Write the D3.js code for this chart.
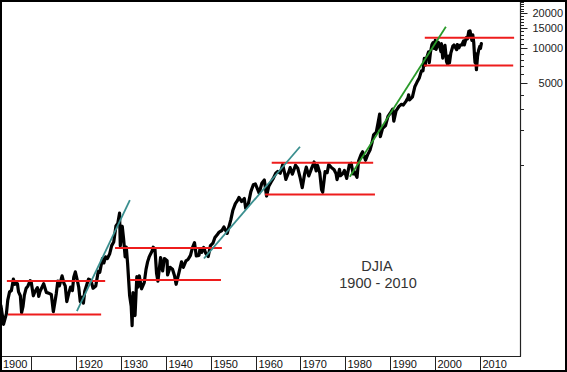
<!DOCTYPE html>
<html><head><meta charset="utf-8">
<script src="https://cdn.jsdelivr.net/npm/d3@7"></script>
<style>html,body{margin:0;padding:0;background:#fff;}svg{display:block;}</style>
</head><body>
<script>
// ---- data ----
const dates = [1903.0,1903.3,1903.6,1903.85,1904.2,1904.5,1904.8,1905.2,1905.6,1905.9,1906.05,1906.4,1906.7,1906.95,1907.2,1907.6,1907.88,1908.2,1908.5,1908.9,1909.3,1909.8,1910.0,1910.5,1910.9,1911.4,1911.7,1912.0,1912.8,1913.4,1913.9,1914.5,1914.95,1915.3,1915.6,1915.95,1916.3,1916.9,1917.3,1917.6,1917.95,1918.4,1918.8,1919.2,1919.5,1919.85,1920.3,1920.6,1920.95,1921.4,1921.65,1921.95,1922.5,1922.8,1923.3,1923.8,1924.4,1924.95,1925.3,1925.9,1926.2,1926.6,1927.0,1927.5,1927.95,1928.4,1928.9,1929.3,1929.7,1929.87,1930.3,1930.6,1930.95,1931.2,1931.5,1931.95,1932.3,1932.5,1932.7,1932.95,1933.15,1933.55,1933.8,1934.1,1934.6,1935.2,1935.6,1935.95,1936.3,1936.95,1937.2,1937.6,1937.95,1938.25,1938.85,1939.3,1939.7,1940.3,1940.4,1940.95,1941.5,1941.95,1942.3,1942.95,1943.5,1943.9,1944.5,1944.95,1945.5,1945.95,1946.4,1946.8,1947.4,1947.6,1948.0,1948.45,1948.9,1949.45,1949.95,1950.5,1950.95,1951.5,1951.9,1952.5,1952.95,1953.7,1953.95,1954.5,1954.95,1955.5,1955.95,1956.3,1956.9,1957.5,1957.8,1958.4,1958.95,1959.5,1959.95,1960.4,1960.8,1961.4,1961.95,1962.45,1962.95,1963.5,1963.95,1964.5,1964.95,1965.5,1966.05,1966.4,1966.75,1967.5,1967.7,1968.2,1968.9,1969.4,1969.9,1970.4,1970.95,1971.3,1971.85,1972.5,1972.95,1973.05,1973.5,1973.8,1974.3,1974.7,1974.95,1975.5,1975.95,1976.3,1976.8,1977.5,1977.95,1978.15,1978.7,1978.9,1979.5,1979.8,1980.3,1980.9,1981.3,1981.75,1981.95,1982.6,1982.95,1983.5,1983.85,1984.5,1984.95,1985.5,1985.95,1986.3,1986.9,1987.3,1987.65,1987.8,1988.3,1988.95,1989.5,1989.95,1990.55,1990.8,1991.3,1991.95,1992.5,1992.9,1993.5,1993.95,1994.1,1994.3,1994.95,1995.5,1995.95,1996.5,1996.95,1997.3,1997.6,1997.8,1997.95,1998.55,1998.7,1998.95,1999.3,1999.55,1999.8,2000.03,2000.2,2000.7,2000.95,2001.3,2001.4,2001.7,2001.95,2002.2,2002.55,2002.8,2003.0,2003.2,2003.5,2003.95,2004.2,2004.8,2004.95,2005.3,2005.6,2005.95,2006.35,2006.5,2006.95,2007.2,2007.5,2007.62,2007.78,2008.0,2008.2,2008.4,2008.6,2008.8,2008.9,2009.0,2009.2,2009.45,2009.7,2009.95,2010.1,2010.3];
const djia = [65,60,50,42,47,52,68,80,82,95,103,93,95,94,80,74,53,60,75,86,90,100,98,74,81,87,73,81,94,79,78,76,54,65,77,99,90,110,95,90,66,78,88,82,107,119,100,88,66,72,64,81,95,103,101,86,90,120,118,155,142,160,155,170,200,215,295,310,381,199,294,230,160,194,140,74,60,41,79,60,50,108,88,110,85,96,125,145,160,180,194,185,115,99,158,121,155,148,112,130,125,110,93,118,145,130,148,152,165,192,212,163,165,185,175,193,172,161,200,210,235,250,262,270,290,255,280,335,404,460,488,520,480,510,420,460,584,670,680,620,566,690,735,535,650,710,760,840,870,840,995,870,744,880,940,825,985,930,780,631,840,950,797,930,1020,1051,880,985,850,607,577,870,850,1000,950,900,830,742,907,800,840,890,759,1000,1024,830,875,777,1070,1220,1287,1087,1210,1330,1546,1800,1900,2300,2722,1738,2050,2168,2600,2750,2999,2365,2900,3168,3300,3250,3500,3750,3978,3600,3830,4700,5100,5600,6400,6400,8200,7160,7900,9337,7539,9180,10800,11200,10000,11722,9796,11300,10600,9400,11000,8235,10000,10635,7700,7286,8600,7500,9100,10450,10700,9750,10800,10100,10700,10700,11600,10700,12400,12100,14000,12900,14164,12600,11740,13058,11300,8400,7552,9000,6547,8500,9700,10400,10000,11000];

// horizontal support/resistance lines: start year, end year, level
const hStart = [1904.6, 1904.85, 1928.7, 1932.0, 1963.6, 1962.1, 1997.7, 1997.5];
const hEnd   = [1926.5, 1925.6, 1952.5, 1952.3, 1986.2, 1986.6, 2017.6, 2017.4];
const hLevel = [99, 51, 191, 101, 1034, 552, 12370, 7140];

// trend lines
const tX1 = [1920.2, 1948.5, 1981.0];
const tY1 = [54.5, 155, 783];
const tX2 = [1932.0, 1969.9, 2002.4];
const tY2 = [493, 1421, 15380];
const tColor = ["#3a8f8f", "#3a8f8f", "#2a9a2a"];

const decadeYears = [1910,1920,1930,1940,1950,1960,1970,1980,1990,2000,2010];
const decadeLabels = ["","1920","1930","1940","1950","1960","1970","1980","1990","2000","2010"];
const firstLabel = "1900";
const yLabelValues = [5000, 10000, 15000, 20000];
const yMinorValues = [1000,2000,3000,4000,6000,7000,8000,9000,11000,12000,13000,14000,16000,17000,18000,19000,21000,22000,23000,24000,25000];

const title1 = "DJIA", title2 = "1900 - 2010";

// ---- layout ----
const W = 567, H = 372;
const plotR = 520.5, plotB = 356.5;
const x = d3.scaleLinear().domain([1920, 2010]).range([76, 480]);
const y = d3.scaleLog().domain([1000, 10000]).range([164.5, 48.4]);

const svg = d3.select("body").append("svg").attr("width", W).attr("height", H)
  .style("font-family", "'Liberation Sans', Arial, sans-serif");

svg.append("defs").append("clipPath").attr("id", "clip")
  .append("rect").attr("x", 1).attr("y", 1).attr("width", plotR - 1).attr("height", plotB - 1);

const g = svg.append("g").attr("clip-path", "url(#clip)");

// data line
const pts = dates.map((d, i) => [d, djia[i]]);
const line = d3.line().x(d => x(d[0])).y(d => y(d[1]));
g.append("path").datum(pts).attr("d", line)
  .attr("fill", "none").attr("stroke", "#000").attr("stroke-width", 3.2)
  .attr("stroke-linejoin", "round").attr("stroke-linecap", "round");

// horizontal red lines
g.selectAll(".hl").data(hLevel).enter().append("line")
  .attr("x1", (d, i) => x(hStart[i])).attr("x2", (d, i) => x(hEnd[i]))
  .attr("y1", d => y(d)).attr("y2", d => y(d))
  .attr("stroke", "#ee1c1c").attr("stroke-width", 2);

// trend lines
g.selectAll(".tl").data(tX1).enter().append("line")
  .attr("x1", (d, i) => x(tX1[i])).attr("y1", (d, i) => y(tY1[i]))
  .attr("x2", (d, i) => x(tX2[i])).attr("y2", (d, i) => y(tY2[i]))
  .attr("stroke", (d, i) => tColor[i]).attr("stroke-width", 1.8);

// plot border (right & bottom)
svg.append("line").attr("x1", plotR).attr("x2", plotR).attr("y1", 0).attr("y2", plotB)
  .attr("stroke", "#222").attr("stroke-width", 1.2);
svg.append("line").attr("x1", 0).attr("x2", plotR + 0.5).attr("y1", plotB).attr("y2", plotB)
  .attr("stroke", "#222").attr("stroke-width", 1.2);

// right axis ticks
svg.selectAll(".mt").data(yMinorValues).enter().append("line")
  .attr("x1", plotR).attr("x2", plotR + 3.5)
  .attr("y1", d => Math.round(y(d)) + 0.5).attr("y2", d => Math.round(y(d)) + 0.5)
  .attr("stroke", "#222").attr("stroke-width", 1);
svg.selectAll(".Mt").data(yLabelValues).enter().append("line")
  .attr("x1", plotR).attr("x2", plotR + 7)
  .attr("y1", d => Math.round(y(d)) + 0.5).attr("y2", d => Math.round(y(d)) + 0.5)
  .attr("stroke", "#222").attr("stroke-width", 1);
svg.selectAll(".yl").data(yLabelValues).enter().append("text")
  .attr("x", 563).attr("y", d => y(d) + 4)
  .attr("text-anchor", "end").attr("font-size", "11px").attr("fill", "#222")
  .text(d => String(d));

// bottom label row
svg.selectAll(".sep").data(decadeYears).enter().append("line")
  .attr("x1", d => Math.round(x(d)) + 0.5).attr("x2", d => Math.round(x(d)) + 0.5)
  .attr("y1", plotB).attr("y2", H)
  .attr("stroke", "#222").attr("stroke-width", 1);
svg.selectAll(".xl").data(decadeYears).enter().append("text")
  .attr("x", d => Math.round(x(d)) + 2.5).attr("y", 368)
  .attr("font-size", "11px").attr("fill", "#111")
  .text((d, i) => decadeLabels[i]);
svg.append("text").attr("x", 3).attr("y", 368).attr("font-size", "11px").attr("fill", "#111").text(firstLabel);

// annotation
svg.append("text").attr("x", 377).attr("y", 271).attr("text-anchor", "middle")
  .attr("font-size", "14.5px").attr("fill", "#333").text(title1);
svg.append("text").attr("x", 378).attr("y", 288).attr("text-anchor", "middle")
  .attr("font-size", "14.5px").attr("fill", "#333").text(title2);

// outer frame
svg.append("rect").attr("x", 1).attr("y", 1).attr("width", W - 2).attr("height", H - 2)
  .attr("fill", "none").attr("stroke", "#000").attr("stroke-width", 2);
</script>
</body></html>
